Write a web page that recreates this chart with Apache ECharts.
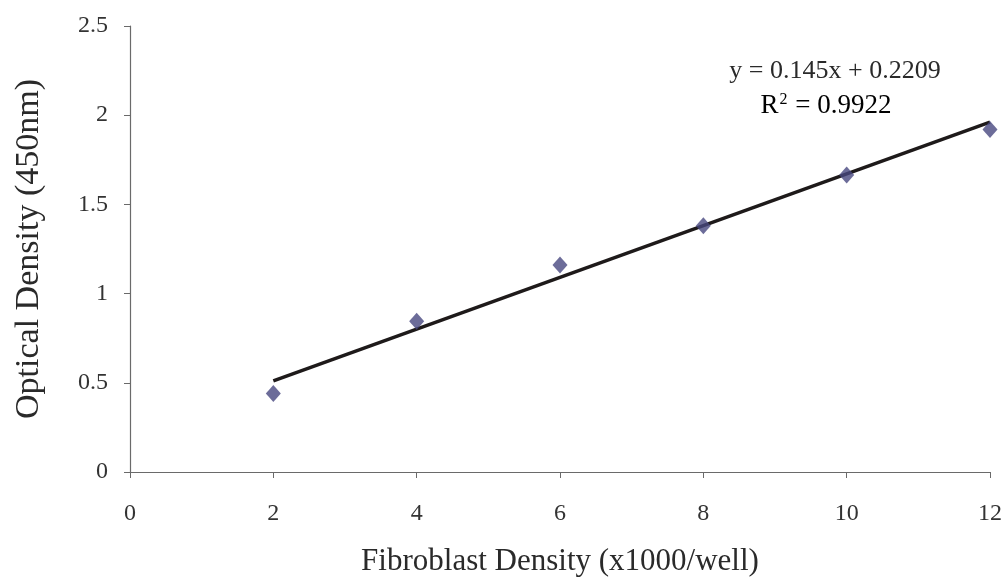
<!DOCTYPE html>
<html>
<head>
<meta charset="utf-8">
<script src="https://cdn.jsdelivr.net/npm/echarts@6/dist/echarts.min.js"></script>
<style>
html,body{margin:0;padding:0;background:#fff;}
#chart{width:1007px;height:582px;}
</style>
</head>
<body>
<div id="chart"></div>
<script>
// Data
var densities = [2, 4, 6, 8, 10, 12];
var opticalDensity = [0.44, 0.845, 1.16, 1.38, 1.665, 1.92];
// Trendline as printed on the chart
var trendSlope = 0.145;
var trendIntercept = 0.2209;
var trendLabel = 'y = 0.145x + 0.2209';
var r2Value = '0.9922';
var xTicks = [0, 2, 4, 6, 8, 10, 12];
var yTicks = [0, 0.5, 1, 1.5, 2, 2.5];

var points = densities.map(function (d, i) { return [d, opticalDensity[i]]; });
var xFirst = densities[0], xLast = densities[densities.length - 1];
var trend = [[xFirst, trendSlope * xFirst + trendIntercept], [xLast, trendSlope * xLast + trendIntercept]];

var FONT = '"Liberation Serif", "Times New Roman", serif';
var chart = echarts.init(document.getElementById('chart'), null, {renderer: 'canvas'});
chart.setOption({
  backgroundColor: '#ffffff',
  animation: false,
  grid: {left: 130, right: 17, top: 26, bottom: 105, containLabel: false},
  xAxis: {
    type: 'value', min: xTicks[0], max: xTicks[xTicks.length - 1], interval: 2,
    name: 'Fibroblast Density (x1000/well)',
    nameLocation: 'middle', nameGap: 74,
    nameTextStyle: {fontFamily: FONT, fontSize: 31, color: '#2a2a2a'},
    axisLine: {show: true, lineStyle: {color: '#6a6a6a', width: 1.2}},
    axisTick: {show: true, length: 6, inside: false, lineStyle: {color: '#6a6a6a'}},
    axisLabel: {margin: 30, fontFamily: FONT, fontSize: 24, color: '#333'},
    splitLine: {show: false}
  },
  yAxis: {
    type: 'value', min: yTicks[0], max: yTicks[yTicks.length - 1], interval: 0.5,
    name: 'Optical Density (450nm)',
    nameLocation: 'middle', nameGap: 84, nameRotate: 90,
    nameTextStyle: {fontFamily: FONT, fontSize: 34, color: '#2a2a2a'},
    axisLine: {show: true, lineStyle: {color: '#6a6a6a', width: 1.2}},
    axisTick: {show: true, length: 6, lineStyle: {color: '#6a6a6a'}},
    axisLabel: {margin: 22, fontFamily: FONT, fontSize: 24, color: '#333'},
    splitLine: {show: false}
  },
  series: [
    {
      type: 'line', data: trend, symbol: 'none',
      lineStyle: {color: '#1e1a1a', width: 3.5}, z: 2
    },
    {
      type: 'scatter', data: points, symbol: 'diamond', symbolSize: [15, 17],
      itemStyle: {color: '#47477f'}, z: 3
    }
  ],
  graphic: [
    {
      type: 'text', x: 835, y: 58,
      style: {text: trendLabel, font: '26px ' + FONT, fill: '#2a2a2a', textAlign: 'center'}
    },
    {
      type: 'text', x: 826, y: 92,
      style: {
        text: '{b|R}{s|2}{b| = ' + r2Value + '}',
        textAlign: 'center',
        rich: {
          b: {fontFamily: FONT, fontSize: 27, color: '#2a2a2a'},
          s: {fontFamily: FONT, fontSize: 16, color: '#2a2a2a', verticalAlign: 'top', padding: [0, 1, 12, 1]}
        }
      }
    }
  ]
});
</script>
</body>
</html>
